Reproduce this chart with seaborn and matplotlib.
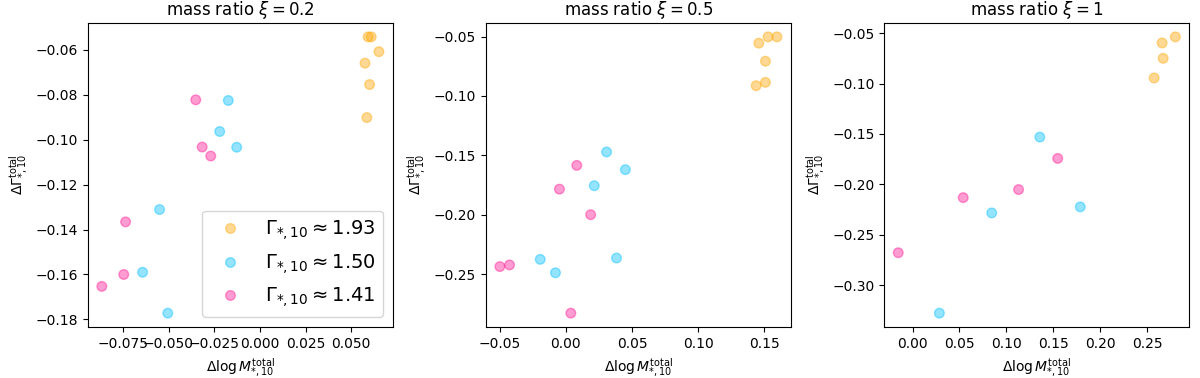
import pandas as pd
import seaborn as sns
import matplotlib.pyplot as plt

# group labels (Gamma_*,10 values)
groups = [r'$\Gamma_{*,10} \approx 1.93$', r'$\Gamma_{*,10} \approx 1.50$', r'$\Gamma_{*,10} \approx 1.41$']
colors = ['orange', 'deepskyblue', 'deeppink']
titles = [r'mass ratio $\xi = 0.2$', r'mass ratio $\xi = 0.5$', r'mass ratio $\xi = 1$']

# xi = 0.2
x_02_g193 = [0.0592, 0.0609, 0.0651, 0.0575, 0.0600, 0.0585]
y_02_g193 = [-0.0543, -0.0543, -0.0609, -0.0660, -0.0755, -0.0902]
x_02_g150 = [-0.0173, -0.0220, -0.0127, -0.0549, -0.0642, -0.0504]
y_02_g150 = [-0.0826, -0.0964, -0.1034, -0.1311, -0.1590, -0.1772]
x_02_g141 = [-0.0351, -0.0316, -0.0269, -0.0735, -0.0745, -0.0865]
y_02_g141 = [-0.0823, -0.1033, -0.1073, -0.1366, -0.1600, -0.1653]

# xi = 0.5
x_05_g193 = [0.1528, 0.1595, 0.1458, 0.1508, 0.1438, 0.1508]
y_05_g193 = [-0.0503, -0.0503, -0.0556, -0.0708, -0.0914, -0.0886]
x_05_g150 = [0.0308, 0.0450, 0.0215, -0.0193, -0.0078, 0.0383]
y_05_g150 = [-0.1472, -0.1621, -0.1756, -0.2376, -0.2489, -0.2365]
x_05_g141 = [0.0083, -0.0048, 0.0188, -0.0498, -0.0425, 0.0038]
y_05_g141 = [-0.1585, -0.1785, -0.2000, -0.2437, -0.2423, -0.2829]

# xi = 1
x_10_g193 = [0.2800, 0.2659, 0.2670, 0.2574]
y_10_g193 = [-0.0536, -0.0596, -0.0749, -0.0944]
x_10_g150 = [0.1356, 0.0844, 0.1787, 0.0286]
y_10_g150 = [-0.1531, -0.2284, -0.2224, -0.3279]
x_10_g141 = [0.1547, 0.1130, 0.0540, -0.0152]
y_10_g141 = [-0.1743, -0.2052, -0.2132, -0.2679]

panels = [
    [(x_02_g193, y_02_g193), (x_02_g150, y_02_g150), (x_02_g141, y_02_g141)],
    [(x_05_g193, y_05_g193), (x_05_g150, y_05_g150), (x_05_g141, y_05_g141)],
    [(x_10_g193, y_10_g193), (x_10_g150, y_10_g150), (x_10_g141, y_10_g141)],
]

fig = plt.figure(figsize=(12, 3.78), dpi=100)
lefts = [0.0733, 0.405, 0.737]

for i, panel in enumerate(panels):
    rows = []
    for g, (xs, ys) in zip(groups, panel):
        for x, y in zip(xs, ys):
            rows.append({'dlogM': x, 'dGamma': y, 'group': g})
    df = pd.DataFrame(rows)

    ax = fig.add_axes([lefts[i], 0.135, 0.254, 0.804])
    sns.scatterplot(data=df, x='dlogM', y='dGamma', hue='group', hue_order=groups,
                    palette=colors, s=48, alpha=0.42, edgecolor='face', linewidth=1,
                    legend=(i == 0), ax=ax)
    ax.set_title(titles[i], fontsize=12)
    ax.set_xlabel(r'$\Delta \log M_{*,10}^{\rm total}$')
    ax.set_ylabel(r'$\Delta \Gamma_{*,10}^{\rm total}$')
    if i == 0:
        sns.move_legend(ax, 'lower right', title=None, fontsize=14)

fig.savefig('out.png', dpi=100)
